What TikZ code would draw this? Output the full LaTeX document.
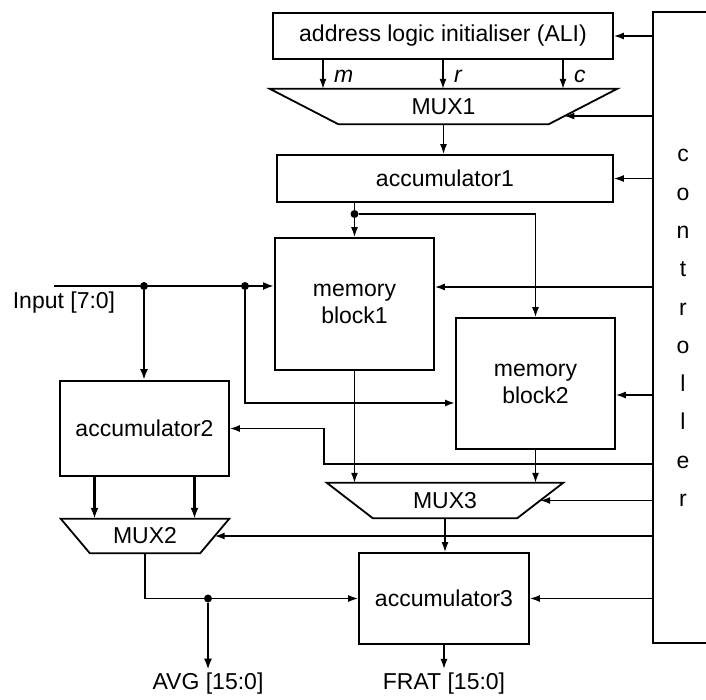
\documentclass[tikz,border=0pt]{standalone}
\usepackage{fontspec}
\setmainfont{Liberation Sans}
\usepackage{tikz}
\usetikzlibrary{positioning}
\usetikzlibrary{calc}
\usetikzlibrary{arrows.meta}
\newcommand\diafont{\fontsize{23}{27}\selectfont}
\tikzset{
  block/.style={draw, line width=1.8pt, inner sep=0pt},
  muxbox/.style={inner sep=0pt},
  sig/.style={line width=1.4pt, -{Latex[length=10pt,width=7pt]}},
  bus/.style={line width=2.8pt, -{Latex[length=11pt,width=8pt]}},
  wire/.style={line width=1.4pt},
  junction/.style={circle, fill, inner sep=0pt, minimum size=8pt}
}
% trapezium drawn round a (blank) mux node, #3 = where the select line hits
\newcommand\muxshape[3]{
  \draw[line width=1.8pt] (#1.north west) -- (#1.north east)
    -- ([xshift=-#2]#1.south east) coordinate (#1se)
    -- ([xshift=#2]#1.south west) -- cycle;
  \coordinate (#1r) at ($(#1.north east)!#3!(#1se)$);
}

\begin{document}
\begin{tikzpicture}[x=1pt, y=-1pt, font=\diafont]
    \useasboundingbox (0,0) rectangle (706,699);

    % controller, open on the right
    \node[block, anchor=north west, minimum width=90pt, minimum height=631pt] (ctrl) at (652,11) {};
    \node[align=center, font=\fontsize{23}{38.3}\selectfont] (ctrltxt) at (683,328) {c\\o\\n\\t\\r\\o\\l\\l\\e\\r};

    \node[block, minimum width=340pt, minimum height=46pt] (ali) at (443,36) {address logic initialiser (ALI)};
    \node[muxbox, minimum width=347pt, minimum height=35pt] (mux1) at (443.5,106.5) {MUX1};
    \muxshape{mux1}{68.5pt}{.77}
    \node[block, minimum width=336pt, minimum height=47pt] (acc1) at (445,178.5) {accumulator1};
    \node[block, align=center, minimum width=159pt, minimum height=132pt] (mb1) at (354.5,304) {memory\\block1};
    \node[block, align=center, minimum width=159pt, minimum height=131pt] (mb2) at (535.5,383.5) {memory\\block2};
    \node[block, minimum width=169pt, minimum height=95pt] (acc2) at (144.5,428.5) {accumulator2};
    \node[muxbox, minimum width=236pt, minimum height=35pt] (mux3) at (445,500.5) {MUX3};
    \muxshape{mux3}{46pt}{.5}
    \node[muxbox, minimum width=168pt, minimum height=34pt] (mux2) at (145,536) {MUX2};
    \muxshape{mux2}{29pt}{.5}
    \node[block, minimum width=170pt, minimum height=91pt] (acc3) at (444,598.5) {accumulator3};

    % input bus
    \coordinate (inp) at (54,286);
    \node (inlabel) at (64,303) {Input [7:0]};
    \node[junction] (j1) at (144,286) {};
    \node[junction] (j2) at (245,286) {};
    \draw[bus] (inp) -- (mb1.west |- inp);
    \draw[bus] (j1) -- (j1 |- acc2.north);
    \draw[sig, line width=2pt] (j2) |- (mb2.west |- 0,403);

    % ALI -> MUX1
    \foreach \dx/\sel in {-120/m, 0/r, 120/c}
      \draw[sig] ($(ali.south)+(\dx,0)$) coordinate (s) -- (s |- mux1.north)
        node[midway, right, xshift=7pt, yshift=-2pt, font=\diafont\itshape] {\sel};

    \draw[sig] (mux1.south) -- (mux1.south |- acc1.north);
    \node[junction] (j3) at (mb1.north |- 0,214) {};
    \draw[wire] (acc1.south -| j3) -- (j3);
    \draw[sig] (j3) -- (mb1.north);
    \draw[sig] (j3) -| (mb2.north);
    \draw[sig] (mb1.south) -- (mb1.south |- mux3.north);
    \draw[sig] (mb2.south) -- (mb2.south |- mux3.north);
    \draw[sig] (mux3.south) -- (mux3.south |- acc3.north);

    % accumulator2 -> MUX2 -> outputs
    \draw[bus] ($(acc2.south)+(-50,0)$) coordinate (a2l) -- (a2l |- mux2.north);
    \draw[bus] ($(acc2.south)+(50,0)$) coordinate (a2r) -- (a2r |- mux2.north);
    \draw[sig] (mux2.south) |- (acc3.west);
    \node[junction] (j4) at (208,598.5) {};
    \node[below=67pt of j4] (avg) {AVG [15:0]};
    \draw[bus] (j4) -- (avg);
    \node[below=24pt of acc3] (frat) {FRAT [15:0]};
    \draw[sig] (acc3) -- (frat);

    % control lines
    \draw[sig] (ctrl.west |- ali.east) -- (ali.east);
    \draw[sig] (ctrl.west |- mux1r) -- (mux1r);
    \draw[sig] (ctrl.west |- acc1.east) -- (acc1.east);
    \draw[sig] (ctrl.west |- 0,287) -- (mb1.east |- 0,287);
    \draw[sig] (ctrl.west |- 0,395) -- (mb2.east |- 0,395);
    \draw[sig] (ctrl.west |- 0,464) -- (324,464) |- (acc2.east);
    \draw[sig] (ctrl.west |- mux3r) -- (mux3r);
    \draw[sig] (ctrl.west |- mux2r) -- (mux2r);
    \draw[sig] (ctrl.west |- acc3.east) -- (acc3.east);
\end{tikzpicture}
\end{document}
